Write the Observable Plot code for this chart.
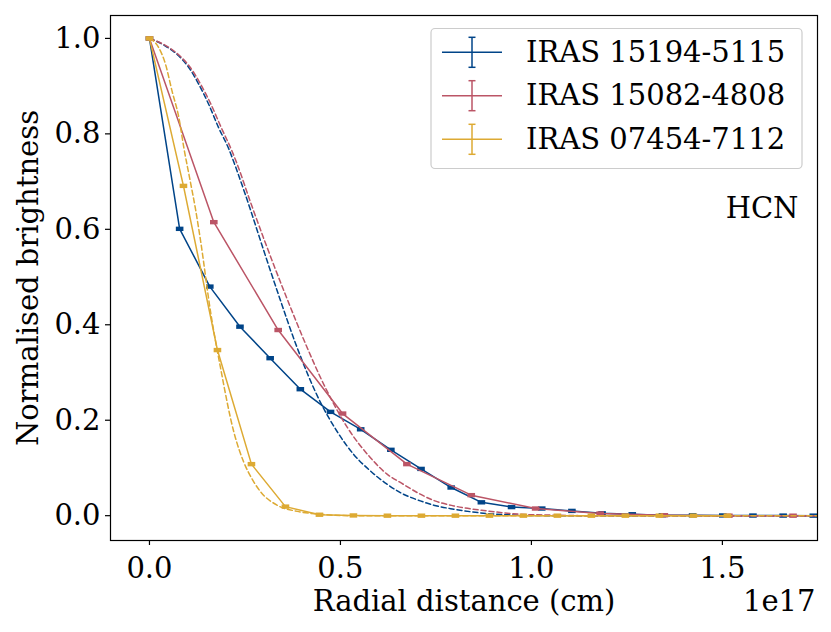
<!DOCTYPE html>
<html>
<head>
<meta charset="utf-8">
<script src="https://cdn.jsdelivr.net/npm/d3@7"></script>
<script src="https://cdn.jsdelivr.net/npm/@observablehq/plot@0.6"></script>
<style>
  body { margin: 0; background: #fff; }
</style>
</head>
<body>
<div id="chart"></div>
<script>
// ---- data (radial distance in units of 1e17 cm) ----
const seriesNames = ["IRAS 15194-5115", "IRAS 15082-4808", "IRAS 07454-7112"];
const seriesColors = ["#004488", "#BB5566", "#DDAA33"];

const blueR = [0, 0.079, 0.158, 0.237, 0.316, 0.395, 0.474, 0.553, 0.632, 0.711, 0.790, 0.869, 0.948, 1.027, 1.106, 1.185, 1.264, 1.343, 1.422, 1.501, 1.580, 1.659, 1.738];
const blueI = [1.0, 0.601, 0.480, 0.396, 0.330, 0.265, 0.2175, 0.181, 0.138, 0.098, 0.059, 0.028, 0.018, 0.015, 0.010, 0.005, 0.003, 0.001, 0.0008, 0.0005, 0.0003, 0.0002, 0.0001];

const redR = [0, 0.1685, 0.337, 0.5055, 0.674, 0.8425, 1.011, 1.180, 1.348, 1.517, 1.685, 1.854];
const redI = [1.0, 0.615, 0.389, 0.214, 0.108, 0.043, 0.015, 0.0045, 0.001, 0.0, 0.0, 0.0];

const yelR = [0, 0.089, 0.178, 0.267, 0.356, 0.445, 0.534, 0.623, 0.712, 0.801, 0.890, 0.979, 1.068, 1.157, 1.246, 1.335, 1.424, 1.513];
const yelI = [1.0, 0.691, 0.347, 0.108, 0.019, 0.002, 0.0005, 0, 0, 0, 0, 0, 0, 0, 0, 0, 0, 0];

// model (dashed) profiles
const blueModelR = [0, 0.042, 0.077, 0.103, 0.129, 0.155, 0.181, 0.208, 0.225, 0.251, 0.264, 0.299, 0.343, 0.382, 0.448, 0.490, 0.534, 0.578, 0.622, 0.660, 0.709, 0.744, 0.797, 0.884, 0.971, 1.060, 1.750];
const blueModelI = [1.0, 0.984, 0.963, 0.939, 0.904, 0.862, 0.813, 0.768, 0.732, 0.673, 0.642, 0.556, 0.451, 0.362, 0.237, 0.178, 0.129, 0.094, 0.066, 0.047, 0.031, 0.022, 0.0136, 0.0045, 0.001, 0, 0];

const redModelR = [0, 0.045, 0.080, 0.107, 0.134, 0.161, 0.188, 0.216, 0.2295, 0.264, 0.308, 0.352, 0.413, 0.448, 0.474, 0.518, 0.578, 0.622, 0.660, 0.709, 0.744, 0.797, 0.884, 0.971, 1.060, 1.150, 1.750];
const redModelI = [1.0, 0.984, 0.963, 0.939, 0.904, 0.862, 0.813, 0.764, 0.737, 0.658, 0.562, 0.471, 0.352, 0.289, 0.247, 0.185, 0.122, 0.087, 0.068, 0.045, 0.032, 0.0205, 0.010, 0.003, 0.001, 0, 0];

const yelModelR = [0, 0.024, 0.042, 0.059, 0.077, 0.090, 0.107, 0.120, 0.134, 0.160, 0.186, 0.221, 0.247, 0.270, 0.291, 0.334, 0.387, 0.448, 0.520, 1.750];
const yelModelI = [1.0, 0.981, 0.946, 0.890, 0.834, 0.771, 0.700, 0.645, 0.575, 0.427, 0.310, 0.175, 0.112, 0.075, 0.050, 0.022, 0.009, 0.003, 0, 0];

const xTicks = [0, 0.5, 1.0, 1.5];
const yTicks = [0, 0.2, 0.4, 0.6, 0.8, 1.0];
const xLabel = "Radial distance (cm)";
const yLabel = "Normalised brightness";
const offsetLabel = "1e17";
const moleculeLabel = "HCN";

// ---- build tables ----
const zip = (r, v) => r.map((d, i) => ({r: d, v: v[i]}));
const obs = [zip(blueR, blueI), zip(redR, redI), zip(yelR, yelI)];
const models = [zip(blueModelR, blueModelI), zip(redModelR, redModelI), zip(yelModelR, yelModelI)];

const capSymbol = { draw(ctx) { ctx.rect(-3.8, -2.2, 7.6, 4.4); } };
const FONT = "'DejaVu Serif', 'Liberation Serif', serif";

const marks = [];
for (let k = 0; k < 3; k++) {
  marks.push(Plot.line(obs[k], {x: "r", y: "v", stroke: seriesColors[k], strokeWidth: 1.5, clip: true}));
  marks.push(Plot.dot(obs[k], {x: "r", y: "v", symbol: capSymbol, fill: seriesColors[k], stroke: "none", clip: true}));
  marks.push(Plot.line(models[k], {x: "r", y: "v", stroke: seriesColors[k], strokeWidth: 1.5, strokeDasharray: "5,3", curve: "monotone-x", clip: true}));
}

const plot = Plot.plot({
  width: 831,
  height: 632,
  marginLeft: 110,
  marginRight: 14,
  marginTop: 15,
  marginBottom: 92,
  style: {fontFamily: FONT, fontSize: "29px", color: "#000", background: "#fff", overflow: "visible"},
  x: {domain: [-0.102, 1.749]},
  y: {domain: [-0.052, 1.048]},
  marks: [
    ...marks,
    Plot.frame({stroke: "#000", strokeWidth: 1.2}),
    Plot.axisX({ticks: xTicks, tickFormat: d3.format(".1f"), tickSize: 5, tickPadding: 12, label: null, fontSize: 29, strokeWidth: 1.2}),
    Plot.axisY({ticks: yTicks, tickFormat: d3.format(".1f"), tickSize: 5, tickPadding: 5, label: null, fontSize: 29, strokeWidth: 1.2}),
    Plot.text([xLabel], {frameAnchor: "bottom", dy: 61, text: d => d, fontSize: 29, lineAnchor: "middle", textAnchor: "middle"}),
    Plot.text([offsetLabel], {frameAnchor: "bottom-right", dy: 61, dx: -2, textAnchor: "end", text: d => d, fontSize: 29, lineAnchor: "middle"}),
    Plot.text([yLabel], {frameAnchor: "left", dx: -82, rotate: -90, text: d => d, fontSize: 29, lineAnchor: "middle", textAnchor: "middle"}),
    Plot.text([moleculeLabel], {frameAnchor: "top-right", dx: -19, dy: 193, textAnchor: "end", text: d => d, fontSize: 29, lineAnchor: "middle"})
  ]
});

document.getElementById("chart").appendChild(plot);

// ---- legend (inside the axes, upper right) ----
const svg = d3.select(plot);
const lg = svg.append("g").attr("font-family", FONT).attr("font-size", 29).attr("text-anchor", "start");
lg.append("rect")
  .attr("x", 431).attr("y", 28.5).attr("width", 371).attr("height", 140)
  .attr("rx", 4).attr("fill", "#fff").attr("fill-opacity", 0.8)
  .attr("stroke", "#cccccc").attr("stroke-width", 1.2);
const rowY = [52.3, 95.7, 139.3];
seriesNames.forEach((name, i) => {
  const y = rowY[i], c = seriesColors[i];
  const g = lg.append("g").attr("stroke", c).attr("stroke-width", 1.5);
  g.append("line").attr("x1", 442).attr("x2", 502).attr("y1", y).attr("y2", y);
  g.append("line").attr("x1", 472).attr("x2", 472).attr("y1", y - 15).attr("y2", y + 15);
  g.append("line").attr("x1", 468.5).attr("x2", 475.5).attr("y1", y - 15).attr("y2", y - 15);
  g.append("line").attr("x1", 468.5).attr("x2", 475.5).attr("y1", y + 15).attr("y2", y + 15);
  lg.append("text").attr("x", 526).attr("y", y + 9.5).attr("fill", "#000").attr("text-anchor", "start").text(name);
});
</script>
</body>
</html>
